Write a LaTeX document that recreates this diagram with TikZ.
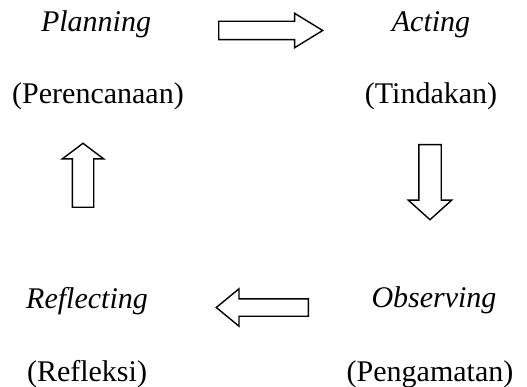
\documentclass[tikz,border=0pt]{standalone}
\usepackage{fontspec}
\setmainfont{Liberation Serif}
\usetikzlibrary{shapes.arrows}

\begin{document}
\begin{tikzpicture}[x=1pt, y=-1pt,
    phase/.style={font=\fontsize{30}{36}\selectfont\itshape, inner sep=0pt, anchor=base},
    gloss/.style={font=\fontsize{30}{36}\selectfont, inner sep=0pt, anchor=base},
    blockarrow/.style={single arrow, draw, line width=1.4pt, fill=white, inner sep=0pt,
                       single arrow head indent=0pt, anchor=tail}]

    \useasboundingbox (0,0) rectangle (527,387);

    % Cycle stages - English terms
    \node[phase] (plan) at (96,31.5) {Planning};
    \node[phase] (act) at (431,31.5) {Acting};
    \node[phase] (obs) at (434,307) {Observing};
    \node[phase] (refl) at (87,308) {Reflecting};

    % Indonesian terms underneath
    \node[gloss] (planid) at ([xshift=2pt, yshift=-72pt]plan.base) {(Perencanaan)};
    \node[gloss] (actid) at ([yshift=-72pt]act.base) {(Tindakan)};
    \node[gloss] (obsid) at ([xshift=-4pt, yshift=-74pt]obs.base) {(Pengamatan)};
    \node[gloss] (reflid) at ([yshift=-73pt]refl.base) {(Refleksi)};

    % Block arrows round the cycle
    \node[blockarrow, minimum height=104pt, inner ysep=8.5pt, single arrow head extend=8pt,
          single arrow tip angle=63] (toact) at (218,30.5) {};
    \node[blockarrow, minimum height=75pt, inner xsep=10.5pt, single arrow head extend=10.5pt,
          single arrow tip angle=96, shape border rotate=270] (toobs) at (430,144) {};
    \node[blockarrow, minimum height=92pt, inner ysep=8pt, single arrow head extend=10pt,
          single arrow tip angle=79, shape border rotate=180] (torefl) at (309,307.5) {};
    \node[blockarrow, minimum height=64pt, inner xsep=10pt, single arrow head extend=10pt,
          single arrow tip angle=106, shape border rotate=90] (toplan) at (83,208) {};
\end{tikzpicture}
\end{document}
